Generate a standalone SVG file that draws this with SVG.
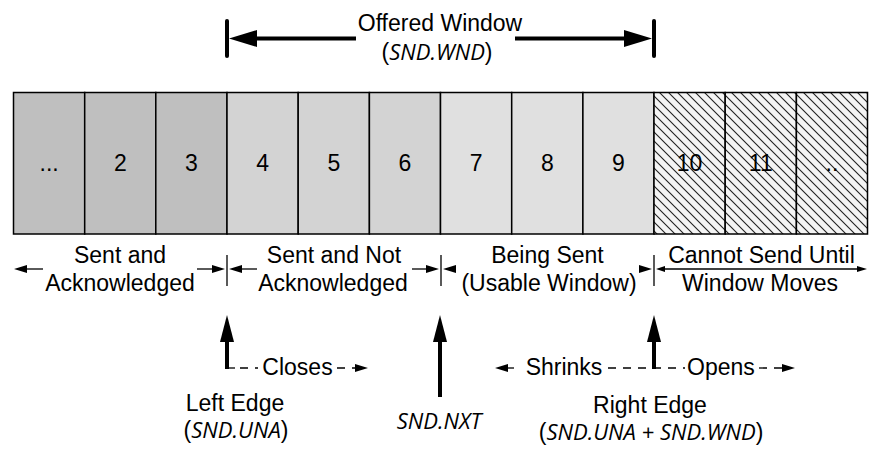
<svg xmlns="http://www.w3.org/2000/svg" width="888" height="466" viewBox="0 0 888 466">
<style>
.cell{stroke:#000;stroke-width:1.5}
.c1{fill:#bfbfbf}.c2{fill:#d3d3d3}.c3{fill:#e0e0e0}.c4{fill:url(#hatch)}
.num{font-family:"Liberation Sans",Arial,sans-serif;font-size:23px;text-anchor:middle;fill:#000}
.lbl{font-family:"Liberation Sans",Arial,sans-serif;font-size:23px;text-anchor:middle;fill:#000}
.it{font-family:"Open Sans","Noto Sans",sans-serif;font-style:italic;font-size:22px}
.thin{stroke:#000;stroke-width:1.3;fill:none}
.dash{stroke:#000;stroke-width:1.3;fill:none;stroke-dasharray:8 7}
.thick{stroke:#000;stroke-width:4;fill:none}
.head{fill:#000}
</style>
<defs>
<pattern id="hatch" patternUnits="userSpaceOnUse" width="9" height="9">
<rect width="9" height="9" fill="#f4f4f4"/>
<path d="M0,0 L9,9 M-2,7 L2,11 M7,-2 L11,2" stroke="#222" stroke-width="1.1"/>
</pattern>
</defs>
<rect width="888" height="466" fill="#fff"/>

<g id="offered-window">
<text class="lbl" x="440" y="31">Offered Window</text>
<text class="lbl" x="437" y="60">(<tspan class="it">SND.WND</tspan>)</text>
</g>

<g id="cells">
<g id="cell-1"><rect class="cell c1" x="13.5" y="92.5" width="71.2" height="141.5"/><text class="num" x="49.1" y="171">...</text></g>
<g id="cell-2"><rect class="cell c1" x="84.7" y="92.5" width="71.1" height="141.5"/><text class="num" x="120.3" y="171">2</text></g>
<g id="cell-3"><rect class="cell c1" x="155.8" y="92.5" width="71.2" height="141.5"/><text class="num" x="191.4" y="171">3</text></g>
<g id="cell-4"><rect class="cell c2" x="227" y="92.5" width="71.2" height="141.5"/><text class="num" x="262.6" y="171">4</text></g>
<g id="cell-5"><rect class="cell c2" x="298.2" y="92.5" width="71.2" height="141.5"/><text class="num" x="333.8" y="171">5</text></g>
<g id="cell-6"><rect class="cell c2" x="369.4" y="92.5" width="71.1" height="141.5"/><text class="num" x="405" y="171">6</text></g>
<g id="cell-7"><rect class="cell c3" x="440.5" y="92.5" width="71.2" height="141.5"/><text class="num" x="476.1" y="171">7</text></g>
<g id="cell-8"><rect class="cell c3" x="511.7" y="92.5" width="71.2" height="141.5"/><text class="num" x="547.3" y="171">8</text></g>
<g id="cell-9"><rect class="cell c3" x="582.9" y="92.5" width="71.1" height="141.5"/><text class="num" x="618.5" y="171">9</text></g>
<g id="cell-10"><rect class="cell c4" x="654" y="92.5" width="71.2" height="141.5"/><text class="num" x="689.6" y="171">10</text></g>
<g id="cell-11"><rect class="cell c4" x="725.2" y="92.5" width="71.2" height="141.5"/><text class="num" x="760.8" y="171">11</text></g>
<g id="cell-12"><rect class="cell c4" x="796.4" y="92.5" width="71.1" height="141.5"/><text class="num" x="832" y="171">..</text></g>
</g>

<g id="label-sent-acked"><text class="lbl" x="120" y="263">Sent and</text><text class="lbl" x="120" y="291">Acknowledged</text></g>
<g id="label-sent-not-acked"><text class="lbl" x="334" y="263">Sent and Not</text><text class="lbl" x="333" y="291">Acknowledged</text></g>
<g id="label-being-sent"><text class="lbl" x="547.5" y="263">Being Sent</text><text class="lbl" x="549" y="291">(Usable Window)</text></g>
<g id="label-cannot-send"><text class="lbl" x="761.5" y="263">Cannot Send Until</text><text class="lbl" x="760" y="291">Window Moves</text></g>

<g id="left-edge"><text class="lbl" x="235" y="411">Left Edge</text><text class="lbl" x="236" y="438">(<tspan class="it">SND.UNA</tspan>)</text></g>
<g id="snd-nxt"><text class="lbl it" x="439" y="429">SND.NXT</text></g>
<g id="right-edge"><text class="lbl" x="650" y="413">Right Edge</text><text class="lbl" x="651" y="440">(<tspan class="it">SND.UNA + SND.WND</tspan>)</text></g>

<g id="motion-labels">
<text class="lbl" x="297.5" y="375">Closes</text>
<text class="lbl" x="564" y="375">Shrinks</text>
<text class="lbl" x="721" y="375">Opens</text>
</g>

<g id="connectors">
<line class="thick" x1="227" y1="21" x2="227" y2="56" stroke-linecap="round"/>
<line class="thick" x1="654" y1="21" x2="654" y2="56" stroke-linecap="round"/>
<line class="thick" x1="254" y1="38.5" x2="356" y2="38.5"/>
<line class="thick" x1="515" y1="38.5" x2="628" y2="38.5"/>
<polygon class="head" points="229,38.5 257,30 257,47"/>
<polygon class="head" points="652,38.5 624,30 624,47"/>

<line class="thin" x1="227" y1="255" x2="227" y2="286"/>
<line class="thin" x1="441" y1="255" x2="441" y2="286"/>
<line class="thin" x1="654" y1="255" x2="654" y2="286"/>

<line class="thin" x1="25" y1="269" x2="43" y2="269"/>
<polygon class="head" points="14,269 27,265 27,273"/>
<line class="thin" x1="197" y1="269" x2="213" y2="269"/>
<polygon class="head" points="225,269 212,265 212,273"/>
<line class="thin" x1="240" y1="269" x2="257" y2="269"/>
<polygon class="head" points="229,269 242,265 242,273"/>
<line class="thin" x1="412" y1="269" x2="428" y2="269"/>
<polygon class="head" points="439,269 426,265 426,273"/>
<polygon class="head" points="443,269 456,265 456,273"/>
<polygon class="head" points="652,269 639,265 639,273"/>
<line class="thin" x1="663" y1="269" x2="859" y2="269"/>
<polygon class="head" points="656,269 665,266 665,272"/>
<polygon class="head" points="867,269 857,266 857,272"/>

<line class="thick" x1="227" y1="338" x2="227" y2="369"/>
<polygon class="head" points="227,315 220,342 234,342"/>
<path class="thin" d="M227,368 H235"/>
<line class="dash" x1="240" y1="368" x2="258" y2="368" stroke-dasharray="8 3"/>
<line class="dash" x1="337" y1="368" x2="356" y2="368"/>
<polygon class="head" points="368,368 355,364 355,372"/>

<line class="thick" x1="440" y1="338" x2="440" y2="397"/>
<polygon class="head" points="440,315 433,342 447,342"/>

<line class="thick" x1="654" y1="338" x2="654" y2="369"/>
<polygon class="head" points="654,315 647,342 661,342"/>
<line class="dash" x1="506" y1="368" x2="520" y2="368"/>
<line class="dash" x1="608" y1="368" x2="685" y2="368"/>
<line class="dash" x1="759" y1="368" x2="784" y2="368"/>
<polygon class="head" points="495,368 508,364 508,372"/>
<polygon class="head" points="795,368 782,364 782,372"/>
</g>
</svg>
